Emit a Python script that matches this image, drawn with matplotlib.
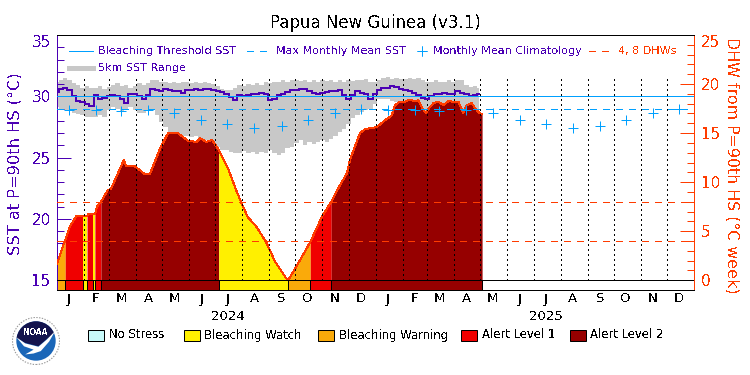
import datetime as dt
import numpy as np
import matplotlib
matplotlib.use('Agg')
import matplotlib.pyplot as plt
from matplotlib.patches import Circle, Polygon, Rectangle

plt.rcParams['lines.scale_dashes'] = False
plt.rcParams['lines.antialiased'] = False
plt.rcParams['text.antialiased'] = False

# Data
start = dt.date(2024, 1, 1)
months = ['J', 'F', 'M', 'A', 'M', 'J', 'J', 'A', 'S', 'O', 'N', 'D']
years = [2024, 2025]
mmm = 29.0
threshold = 30.0
dhw_levels = [4, 8]
climatology = [28.85, 28.85, 28.8, 28.85, 28.6, 28.1, 27.7, 27.45, 27.55, 28.1, 28.65, 29.0]

# daily SST and 5km range, one reading every 5 days
sst_step = 5
sst = [30.35, 30.6, 30.7, 30.5, 30.0, 29.6, 29.5, 29.35, 29.2, 30.1, 29.8, 29.9, 30.0, 30.1, 30.0, 29.8,
       29.45, 30.15, 30.15, 30.0, 29.8, 30.1, 30.6, 30.55, 30.45, 30.6, 30.55, 30.45, 30.4, 30.25, 30.55, 30.55,
       30.6, 30.55, 30.6, 30.6, 30.5, 30.4, 30.35, 30.15, 29.95, 29.7, 30.1, 30.05, 30.1, 30.2, 30.2, 30.25,
       30.15, 29.7, 29.75, 30.1, 30.2, 30.35, 30.55, 30.55, 30.6, 30.6, 30.45, 30.3, 30.15, 30.25, 30.35, 30.4,
       30.45, 30.5, 30.1, 29.8, 30.1, 30.4, 30.3, 30.15, 29.8, 30.15, 30.5, 30.7, 30.7, 30.8, 30.75, 30.6,
       30.5, 30.45, 30.25, 30.1, 29.9, 29.75, 30.0, 30.15, 30.2, 30.25, 30.15, 30.2, 30.4, 30.3, 30.2, 30.05,
       30.1, 30.15]
sst_top = [31.15, 31.35, 31.5, 31.3, 31.05, 30.9, 30.7, 30.8, 30.7, 30.7, 30.8, 30.6, 30.75, 30.9, 31.05, 30.8,
           30.9, 30.7, 30.8, 31.05, 30.9, 31.1, 31.3, 31.35, 31.15, 31.2, 31.1, 31.15, 31.05, 31.15, 31.2, 31.1,
           31.15, 31.1, 31.15, 31.05, 31.0, 30.8, 30.6, 30.55, 30.5, 30.7, 30.9, 30.8, 31.0, 30.9, 31.05, 30.9,
           31.15, 31.1, 31.2, 31.15, 31.3, 31.2, 31.3, 31.35, 31.25, 31.35, 31.2, 31.3, 31.2, 31.35, 31.25, 31.3,
           31.2, 31.3, 31.2, 31.35, 31.25, 31.35, 31.3, 31.4, 31.2, 31.15, 31.3, 31.5, 31.55, 31.45, 31.5, 31.45,
           31.4, 31.5, 31.45, 31.5, 31.3, 31.15, 31.2, 31.3, 31.15, 31.2, 31.3, 31.2, 31.3, 31.35, 30.9, 30.75,
           30.8, 30.7]
sst_bottom = [29.15, 29.0, 28.85, 28.8, 28.65, 28.55, 28.45, 28.3, 28.3, 28.3, 28.45, 28.35, 28.85, 29.1, 29.0, 28.7,
              28.85, 29.1, 28.85, 28.6, 28.65, 28.9, 28.85, 28.45, 27.9, 27.5, 27.1, 27.0, 26.9, 26.8, 26.75, 26.65,
              26.8, 26.55, 26.4, 26.3, 26.1, 25.9, 25.65, 25.6, 25.45, 25.4, 25.35, 25.55, 25.4, 25.45, 25.3, 25.45,
              25.4, 25.6, 25.35, 25.2, 25.4, 25.75, 25.85, 26.2, 26.4, 26.0, 26.3, 26.1, 26.3, 26.45, 26.3, 26.55,
              26.75, 27.1, 27.35, 27.75, 28.25, 28.45, 28.7, 28.9, 29.0, 29.4, 29.75, 29.8, 29.75, 29.65, 29.55, 29.25,
              29.0, 28.85, 28.7, 28.7, 28.7, 28.7, 28.7, 28.7, 28.7, 28.7, 28.7, 28.7, 28.7, 28.7, 28.7, 28.7,
              28.7, 28.7]

# degree heating weeks
dhw_days = [0, 10, 15.5, 22.4, 30, 35, 36, 42, 44, 46.4, 51, 59, 62.5, 77.4, 79.7, 90, 101.5, 107, 118.7, 127.9,
            139, 151, 161, 164.6, 171.4, 178.3, 186, 196.7, 205.9, 213.9, 219.6, 228.8, 240.3, 250.6, 264.4, 266,
            275.8, 291, 304.5, 315, 325.1, 333.1, 336.6, 348, 353.8, 367, 376.7, 384.4, 388.2, 393.9, 399.7, 403.5,
            407.3, 411.1, 414.9, 419.5, 423.4, 427.2, 432.2, 437.9, 443.6, 449.3, 455, 460.8, 466.5, 470.4, 476.1,
            480, 484.9, 488]
dhw = [1.56, 4.1, 5.5, 6.5, 6.5, 6.5, 6.7, 6.7, 6.7, 7.5, 8.0, 9.2, 9.3, 12.3, 11.6, 11.6, 10.8, 10.8, 13.4, 15.0,
       15.0, 14.2, 14.1, 14.5, 14.1, 14.3, 13.3, 11.4, 9.2, 7.5, 6.4, 5.5, 3.9, 1.9, 0.05, 0.05,
       1.5, 3.9, 6.5, 8.0, 9.7, 10.9, 12.3, 15.0, 15.4, 15.6, 16.3, 16.8, 17.85, 18.2, 18.2, 18.35,
       18.35, 18.25, 18.35, 17.55, 17.05, 17.55, 18.05, 18.2, 17.85, 18.25, 18.2, 18.2, 17.05, 17.85, 18.05,
       17.55, 17.05, 16.95]

# stress level periods, first day of each and the last day of the record
status_days = [0, 10, 30, 35, 42, 44, 51, 186, 266, 291, 315, 488]
status_names = ['warning', 'alert1', 'watch', 'alert1', 'watch', 'alert1', 'alert2', 'watch', 'warning', 'alert1', 'alert2']

status_colors = {'none': '#c8fafa', 'watch': '#fff000', 'warning': '#faaa0a', 'alert1': '#f00000', 'alert2': '#960000'}
status_labels = ['No Stress', 'Bleaching Watch', 'Bleaching Warning', 'Alert Level 1', 'Alert Level 2']
status_keys = ['none', 'watch', 'warning', 'alert1', 'alert2']

PURPLE = '#4b00b4'
BLUE = '#00a0ff'
ORANGE = '#ff3c00'
GRAY = '#c8c8c8'
FS = 11
LW = 0.72  # one pixel


def sst2dhw(v):
    return (np.asarray(v) - 15.0) / 0.8


def dhw2sst(v):
    return 15.0 + 0.8 * np.asarray(v)


def day_of(d):
    return (d - start).days


W, H = 750, 375
fig = plt.figure(figsize=(W / 100, H / 100), dpi=100)
ax = fig.add_axes([56.5 / W, (H - 290) / H, 637.5 / W, 255 / H])
ax.set_xlim(0, 731)
ax.set_ylim(14.2, 35)


def px(x, y):
    # figure coordinates from image pixels, for legends and labels
    return x / W, (H - y) / H


# 5km range
sst_days = np.arange(len(sst)) * sst_step
ax.fill_between(sst_days, sst_bottom, sst_top, color=GRAY, lw=0, zorder=1, step='mid')

# DHW area coloured by stress level
d = np.array(dhw_days)
v = dhw2sst(dhw)
for i, name in enumerate(status_names):
    m = (d >= status_days[i]) & (d <= status_days[i + 1])
    ax.fill_between(d[m], 15, v[m], color=status_colors[name], lw=0, zorder=2)
    ax.add_patch(Rectangle((status_days[i], 14.2), status_days[i + 1] - status_days[i], 0.8,
                           fc=status_colors[name], ec='black', lw=LW, zorder=2))
ax.plot(d, v, color=ORANGE, lw=LW, zorder=3)

# month lines
month_starts = [day_of(dt.date(y, m, 1)) for y in years for m in range(1, 13)][1:]
ax.vlines(month_starts, 15, 31.5, color='black', lw=LW, linestyles=[(0, (1, 2.2))], zorder=4,
          antialiased=False)

# DHW levels, threshold, MMM
ax.hlines(dhw2sst(dhw_levels), 0, 731, color=ORANGE, lw=LW, linestyles=[(0, (5, 4.6))], zorder=4,
          antialiased=False)
ax.axhline(15, color='black', lw=LW, zorder=5)
ax.axhline(mmm, color=BLUE, lw=LW, dashes=(5, 4.6), zorder=5)
clim_days = [day_of(dt.date(y, m, 15)) for y in years for m in range(1, 13)]
ax.plot(clim_days, climatology * 2, ls='none', marker='+', ms=7.5, mew=LW, color=BLUE, zorder=6)
ax.plot(sst_days, sst, color=PURPLE, lw=1.44, zorder=6, drawstyle='steps-mid')
ax.axhline(threshold, color=BLUE, lw=LW, zorder=7)

# axes
for s in ax.spines.values():
    s.set_linewidth(LW)
    s.set_antialiased(False)
ax.spines['left'].set_color(PURPLE)
ax.spines['right'].set_color(ORANGE)
ax.set_xticks([])
ax.set_yticks([15, 20, 25, 30, 35])
ax.set_yticks(range(16, 35), minor=True)
ax.tick_params(axis='y', which='major', direction='in', length=10, width=LW, color=PURPLE, labelcolor=PURPLE,
               labelsize=FS, pad=4)
ax.tick_params(axis='y', which='minor', direction='in', length=5, width=LW, color=PURPLE)
ax.get_yticklabels()[-1].set_verticalalignment('top')

sec = ax.secondary_yaxis('right', functions=(sst2dhw, dhw2sst))
sec.spines['right'].set_color(ORANGE)
sec.spines['right'].set_linewidth(LW)
sec.set_yticks([0, 5, 10, 15, 20, 25])
sec.set_yticks(range(1, 25), minor=True)
sec.tick_params(axis='y', which='major', direction='in', length=10, width=LW, color=ORANGE, labelcolor=ORANGE,
                labelsize=FS, pad=5)
sec.tick_params(axis='y', which='minor', direction='in', length=5, width=LW, color=ORANGE)
sec.get_yticklabels()[-1].set_verticalalignment('top')

# month and year labels
for y in years:
    for m, label in enumerate(months, 1):
        ax.annotate(label, (day_of(dt.date(y, m, 15)), 0), xycoords=('data', 'axes fraction'), xytext=(0, -9),
                    textcoords='offset pixels', ha='center', va='center', fontsize=9.5, color='black')
    ax.annotate(str(y), (day_of(dt.date(y, 7, 15)), 0), xycoords=('data', 'axes fraction'), xytext=(0, -26),
                textcoords='offset pixels', ha='center', va='center', fontsize=9.5, color='black')

fig.text(*px(375, 23), 'Papua New Guinea (v3.1)', ha='center', va='center', fontsize=12)
fig.text(*px(15, 164), 'SST at P=90th HS (°C)', rotation=90, ha='center', va='center', fontsize=11.7, color=PURPLE)
fig.text(*px(732, 165), 'DHW from P=90th HS (°C week)', rotation=270, ha='center', va='center', fontsize=11.4,
         color=ORANGE)


# legend inside the plot
def leg_line(x0, x1, y, **kw):
    fig.add_artist(plt.Line2D([x0 / W, x1 / W], [(H - y) / H] * 2, transform=fig.transFigure, **kw))


def leg_text(x, y, s, color=PURPLE, size=8.0):
    fig.text(*px(x, y), s, ha='left', va='center', fontsize=size, color=color)


leg_line(69, 93, 51, color=BLUE, lw=LW)
leg_text(98, 51, 'Bleaching Threshold SST')
leg_line(247, 270, 51, color=BLUE, lw=LW, dashes=(5, 4.6))
leg_text(276, 51, 'Max Monthly Mean SST')
leg_line(422, 422, 51, color=BLUE, marker='+', ms=7.5, mew=LW, ls='none')
leg_text(433, 51, 'Monthly Mean Climatology')
leg_line(589, 612, 51, color=ORANGE, lw=LW, dashes=(5, 4.6))
leg_text(618, 51, '4, 8 DHWs', color=ORANGE)
leg_line(69, 93, 68, color=GRAY, lw=3.5)
leg_text(98, 68, '5km SST Range')

# stress legend below
box_x = [87.5, 183.5, 317.5, 461.5, 569.5]
text_x = [109, 204, 339, 482, 590]
for bx, tx, key, label in zip(box_x, text_x, status_keys, status_labels):
    fig.add_artist(Rectangle((bx / W, (H - 341) / H), 16 / W, 11 / H, transform=fig.transFigure,
                             fc=status_colors[key], ec='black', lw=LW))
    leg_text(tx, 335, label, color='black', size=8.4)

# NOAA logo
logo = fig.add_axes([12 / W, (H - 365) / H, 48 / W, 48 / H])
logo.set_xlim(-1, 1)
logo.set_ylim(-1, 1)
logo.axis('off')
logo.add_patch(Circle((0, 0), 0.98, fc='white', ec='#9a9a9a', lw=0.8, ls=(0, (1, 1))))
logo.add_patch(Circle((0, 0), 0.82, fc='#1a66b8', ec='none'))
sky = Circle((0, 0), 0.82, fc='#14144e', ec='none')
logo.add_patch(sky)
cut = Polygon([(-0.9, 0.18), (-0.45, -0.08), (0.1, -0.22), (0.45, 0.08), (0.9, 0.42), (0.9, 0.9), (-0.9, 0.9)],
              fc='none', ec='none')
logo.add_patch(cut)
sky.set_clip_path(cut)
logo.add_patch(Polygon([(-0.82, 0.16), (-0.45, -0.1), (0.1, -0.24), (0.45, 0.06), (0.8, 0.42), (0.55, -0.02),
                        (0.2, -0.42), (-0.1, -0.52), (-0.45, -0.56), (-0.1, -0.36), (-0.5, -0.22)],
                       fc='white', ec='none'))
logo.text(0, 0.36, 'NOAA', color='white', ha='center', va='center', fontsize=5.5, fontweight='bold')

fig.savefig('out.png', dpi=100)
